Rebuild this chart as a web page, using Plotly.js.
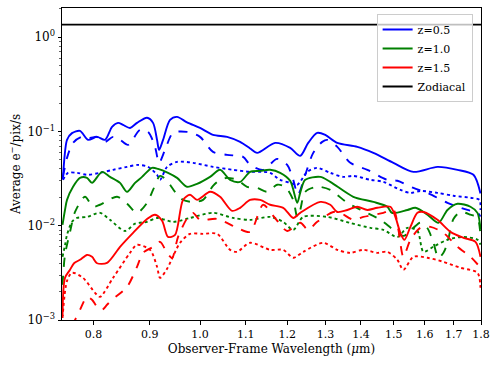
<!DOCTYPE html>
<html>
<head>
<meta charset="utf-8">
<script src="https://cdn.plot.ly/plotly-3.0.1.min.js"></script>
<style>
  html, body { margin: 0; padding: 0; background: #fff; }
  #myDiv { width: 499px; height: 366px; }
</style>
</head>
<body>
<div id="myDiv"></div>
<script>
// z = 0.5
let wlBlueSolid = [0.750, 0.7506, 0.7569, 0.7648, 0.7777, 0.7909, 0.806, 0.8196, 0.8317, 0.8422, 0.8511, 0.8636, 0.8763, 0.8949, 0.9062, 0.9138, 0.9177, 0.9254, 0.939, 0.9529, 0.973, 0.9998, 1.0274, 1.058, 1.0873, 1.1103, 1.1267, 1.17, 1.2075, 1.233, 1.2538, 1.2777, 1.2994, 1.3325, 1.3895, 1.437, 1.4985, 1.5626, 1.6432, 1.7135, 1.7718, 1.798];
let blueSolid = [0.031, 0.034, 0.0815, 0.096, 0.1015, 0.0815, 0.0877, 0.0815, 0.112, 0.1234, 0.1175, 0.109, 0.1234, 0.140, 0.1234, 0.0815, 0.0638, 0.0815, 0.1327, 0.1429, 0.125, 0.109, 0.092, 0.0877, 0.0776, 0.066, 0.0593, 0.0757, 0.067, 0.0551, 0.0757, 0.0966, 0.092, 0.0757, 0.0687, 0.0593, 0.0465, 0.0373, 0.0421, 0.0392, 0.0347, 0.022];

let wlBlueDash = [0.7506, 0.7569, 0.7665, 0.781, 0.7942, 0.806, 0.8196, 0.8335, 0.8457, 0.8601, 0.8819, 0.8968, 0.91, 0.9177, 0.9293, 0.9449, 0.973, 0.9998, 1.0274, 1.058, 1.0941, 1.1103, 1.141, 1.175, 1.1999, 1.2151, 1.227, 1.246, 1.2671, 1.2912, 1.3048, 1.3325, 1.3693, 1.419, 1.4797, 1.511, 1.5626, 1.6092, 1.678, 1.7497, 1.7867, 1.798];
let blueDash = [0.033, 0.0525, 0.0757, 0.0877, 0.0855, 0.0877, 0.0776, 0.0877, 0.0815, 0.0721, 0.104, 0.099, 0.0687, 0.0465, 0.0638, 0.0966, 0.099, 0.0877, 0.0608, 0.0565, 0.0538, 0.0442, 0.0392, 0.0512, 0.0442, 0.0307, 0.0213, 0.0347, 0.0593, 0.0776, 0.0815, 0.0687, 0.0465, 0.0392, 0.0307, 0.030, 0.0252, 0.0223, 0.0175, 0.0147, 0.0137, 0.0125];

let wlBlueDot = [0.7506, 0.7585, 0.7729, 0.7893, 0.811, 0.8335, 0.8583, 0.8782, 0.8968, 0.9138, 0.9196, 0.9332, 0.9529, 0.9853, 1.0274, 1.0714, 1.1103, 1.141, 1.1578, 1.1824, 1.2075, 1.2253, 1.2512, 1.2777, 1.3131, 1.3494, 1.3779, 1.428, 1.4674, 1.5206, 1.5528, 1.5857, 1.6432, 1.6992, 1.7607, 1.7942, 1.798];
let blueDot = [0.0307, 0.0364, 0.0364, 0.0347, 0.0364, 0.0392, 0.0421, 0.0442, 0.0421, 0.0347, 0.0307, 0.0421, 0.0476, 0.0465, 0.0421, 0.0392, 0.0373, 0.0373, 0.0364, 0.0307, 0.0285, 0.0272, 0.0373, 0.0411, 0.0364, 0.033, 0.0338, 0.0307, 0.0292, 0.024, 0.0223, 0.0234, 0.0223, 0.0208, 0.0198, 0.0188, 0.0147];

// z = 1.0
let wlGreenSolid = [0.7498, 0.7537, 0.7569, 0.7665, 0.7777, 0.7893, 0.7976, 0.8145, 0.8282, 0.8457, 0.8583, 0.8727, 0.8856, 0.9043, 0.9157, 0.9351, 0.9529, 0.973, 0.9936, 1.021, 1.0426, 1.0647, 1.0873, 1.1103, 1.1338, 1.1578, 1.1824, 1.2075, 1.2253, 1.233, 1.246, 1.2858, 1.3131, 1.3779, 1.437, 1.4797, 1.4939, 1.5431, 1.5692, 1.6092, 1.6467, 1.678, 1.7135, 1.7607, 1.7867, 1.798];
let greenSolid = [0.0102, 0.0147, 0.0188, 0.0259, 0.0322, 0.0322, 0.0285, 0.0373, 0.033, 0.0285, 0.0229, 0.0285, 0.033, 0.0411, 0.0401, 0.0364, 0.0322, 0.0259, 0.0278, 0.033, 0.0392, 0.0307, 0.0292, 0.0373, 0.0382, 0.0392, 0.0364, 0.0299, 0.0175, 0.0223, 0.0307, 0.033, 0.0292, 0.0203, 0.0179, 0.0159, 0.0137, 0.0147, 0.0155, 0.0131, 0.01074, 0.0147, 0.0171, 0.0159, 0.0137, 0.0092];

let wlGreenDash = [0.7498, 0.7537, 0.7617, 0.7697, 0.7859, 0.7992, 0.811, 0.8405, 0.8583, 0.8763, 0.8949, 0.9062, 0.9196, 0.9332, 0.9489, 0.9649, 0.9853, 1.0061, 1.0274, 1.0426, 1.058, 1.0804, 1.1033, 1.1267, 1.1506, 1.175, 1.195, 1.2151, 1.2253, 1.233, 1.246, 1.2777, 1.3131, 1.3607, 1.4071, 1.4582, 1.4985, 1.5302, 1.5626, 1.5857, 1.6092, 1.6295, 1.6467, 1.664, 1.678, 1.6992, 1.7243, 1.7607, 1.7867, 1.798];
let greenDash = [0.00236, 0.0049, 0.0086, 0.0140, 0.0203, 0.0159, 0.0167, 0.0203, 0.0171, 0.0137, 0.0175, 0.024, 0.0338, 0.030, 0.0229, 0.0188, 0.0179, 0.0188, 0.0265, 0.0307, 0.0322, 0.0307, 0.0259, 0.0252, 0.0229, 0.0272, 0.0259, 0.0188, 0.0124, 0.0147, 0.0229, 0.0259, 0.024, 0.0175, 0.0143, 0.01155, 0.00905, 0.0078, 0.0095, 0.0108, 0.0094, 0.00659, 0.00457, 0.00516, 0.0066, 0.0118, 0.014, 0.0131, 0.0121, 0.0078];

let wlGreenDot = [0.7498, 0.7537, 0.7569, 0.7648, 0.7729, 0.7893, 0.811, 0.8282, 0.8547, 0.8727, 0.8949, 0.9138, 0.9449, 0.9791, 1.0274, 1.0714, 1.1103, 1.1578, 1.1899, 1.2151, 1.2408, 1.3048, 1.3693, 1.428, 1.4674, 1.511, 1.5431, 1.5757, 1.5957, 1.6295, 1.678, 1.7351, 1.7867, 1.798];
let greenDot = [0.00468, 0.0062, 0.008, 0.011, 0.0121, 0.0124, 0.0137, 0.01155, 0.0088, 0.0105, 0.011, 0.0121, 0.011, 0.0121, 0.0137, 0.0121, 0.01155, 0.0124, 0.011, 0.00905, 0.0124, 0.0124, 0.0107, 0.0095, 0.00905, 0.0076, 0.0095, 0.0088, 0.0053, 0.0060, 0.0071, 0.0076, 0.0071, 0.0063];

// z = 1.5
let wlRedSolid = [0.7498, 0.7537, 0.7617, 0.7681, 0.7777, 0.7892, 0.7976, 0.806, 0.823, 0.8457, 0.8691, 0.8949, 0.91, 0.9235, 0.9351, 0.9489, 0.9649, 0.9791, 0.9936, 1.021, 1.0426, 1.0692, 1.0873, 1.1103, 1.1338, 1.1578, 1.1899, 1.2151, 1.233, 1.2858, 1.3131, 1.3325, 1.3607, 1.3895, 1.419, 1.449, 1.4891, 1.5047, 1.5206, 1.5334, 1.5528, 1.5757, 1.5957, 1.6432, 1.6886, 1.7351, 1.7793, 1.798];
let redSolid = [0.0011, 0.0028, 0.00341, 0.0040, 0.00435, 0.0049, 0.00468, 0.0040, 0.00404, 0.00597, 0.0084, 0.0118, 0.0131, 0.0113, 0.00762, 0.008, 0.0188, 0.0213, 0.0188, 0.0229, 0.0203, 0.0144, 0.0155, 0.0188, 0.0188, 0.0167, 0.0155, 0.0121, 0.0137, 0.0179, 0.0167, 0.014, 0.0147, 0.0159, 0.0147, 0.0155, 0.0159, 0.0124, 0.0084, 0.00709, 0.00973, 0.0137, 0.014, 0.01155, 0.00861, 0.00744, 0.00675, 0.00468];

let wlRedDash = [0.7648, 0.7697, 0.7777, 0.7893, 0.7976, 0.806, 0.8145, 0.823, 0.8317, 0.8583, 0.8763, 0.8874, 0.9062, 0.9196, 0.9332, 0.943, 0.9549, 0.975, 0.9853, 0.9998, 1.0361, 1.0804, 1.1103, 1.141, 1.1675, 1.1999, 1.233, 1.2538, 1.2777, 1.3214, 1.3409, 1.3779, 1.4071, 1.4674, 1.4985, 1.5143, 1.5302, 1.5528, 1.5857, 1.6193, 1.664, 1.7135, 1.7607, 1.798];
let redDash = [0.00087, 0.001, 0.00128, 0.00176, 0.00164, 0.00138, 0.00128, 0.00145, 0.00164, 0.00225, 0.00367, 0.00516, 0.00597, 0.00675, 0.00516, 0.00457, 0.00762, 0.0124, 0.0137, 0.01155, 0.0118, 0.0095, 0.0086, 0.0167, 0.0124, 0.0088, 0.01074, 0.00905, 0.011, 0.014, 0.0137, 0.01155, 0.0124, 0.0137, 0.0147, 0.00905, 0.00468, 0.00709, 0.0095, 0.00973, 0.0084, 0.00597, 0.00468, 0.0036];

let wlRedDot = [0.7498, 0.7569, 0.7648, 0.7827, 0.8026, 0.811, 0.8335, 0.8636, 0.8763, 0.9005, 0.9138, 0.9196, 0.9332, 0.9589, 0.9791, 1.0061, 1.0361, 1.0647, 1.0804, 1.1103, 1.1578, 1.1899, 1.2151, 1.2408, 1.2939, 1.3325, 1.3693, 1.4071, 1.449, 1.4797, 1.511, 1.5302, 1.5626, 1.6092, 1.664, 1.7243, 1.7867, 1.798];
let redDot = [0.00105, 0.0026, 0.00317, 0.0028, 0.00194, 0.00176, 0.0028, 0.00516, 0.00627, 0.00555, 0.00367, 0.0028, 0.0035, 0.00659, 0.0082, 0.0082, 0.0082, 0.00555, 0.00529, 0.00659, 0.00555, 0.00555, 0.00457, 0.00529, 0.00659, 0.00555, 0.00516, 0.00555, 0.00516, 0.00529, 0.00435, 0.00341, 0.00468, 0.00457, 0.00414, 0.00358, 0.00317, 0.0022];

// zodiacal background
let wlZodi = [0.70, 1.90];
let zodi = [1.36, 1.36];

let xTicks = [0.8, 0.9, 1.0, 1.1, 1.2, 1.3, 1.4, 1.5, 1.6, 1.7, 1.8];
let xTickText = ['0.8', '0.9', '1.0', '1.1', '1.2', '1.3', '1.4', '1.5', '1.6', '1.7', '1.8'];
let yTicks = [0.001, 0.01, 0.1, 1];
let yTickText = ['10<sup>−3</sup>', '10<sup>−2</sup>', '10<sup>−1</sup>', '10<sup>0</sup>'];
let yMinor = [0.002, 0.003, 0.004, 0.005, 0.006, 0.007, 0.008, 0.009,
              0.02, 0.03, 0.04, 0.05, 0.06, 0.07, 0.08, 0.09,
              0.2, 0.3, 0.4, 0.5, 0.6, 0.7, 0.8, 0.9, 2];

const serif = 'DejaVu Serif';

function linea(x, y, color, dash, name, showlegend) {
    return {
        x: x,
        y: y,
        type: 'scatter',
        mode: 'lines',
        name: name,
        showlegend: showlegend,
        line: {color: color, width: 1.9, dash: dash, shape: 'spline', smoothing: 0.8}
    };
}

var data = [
    linea(wlBlueSolid, blueSolid, '#0000ff', 'solid', 'z=0.5', true),
    linea(wlBlueDash, blueDash, '#0000ff', 'dash', '', false),
    linea(wlBlueDot, blueDot, '#0000ff', 'dot', '', false),
    linea(wlGreenSolid, greenSolid, '#008000', 'solid', 'z=1.0', true),
    linea(wlGreenDash, greenDash, '#008000', 'dash', '', false),
    linea(wlGreenDot, greenDot, '#008000', 'dot', '', false),
    linea(wlRedSolid, redSolid, '#ff0000', 'solid', 'z=1.5', true),
    linea(wlRedDash, redDash, '#ff0000', 'dash', '', false),
    linea(wlRedDot, redDot, '#ff0000', 'dot', '', false),
    {
        x: wlZodi,
        y: zodi,
        type: 'scatter',
        mode: 'lines',
        name: 'Zodiacal',
        line: {color: '#000000', width: 1.9}
    }
];

var layout = {
    width: 499,
    height: 366,
    margin: {l: 62, r: 18, t: 8, b: 46},
    font: {family: serif, size: 11, color: '#000'},
    plot_bgcolor: '#fff',
    paper_bgcolor: '#fff',
    showlegend: true,
    legend: {
        x: 0.98, y: 0.981, xanchor: 'right', yanchor: 'top',
        bgcolor: 'rgba(255,255,255,0.75)',
        bordercolor: '#cccccc', borderwidth: 1,
        font: {family: serif, size: 11},
        itemwidth: 30,
        tracegroupgap: 0
    },
    xaxis: {
        type: 'log',
        range: [Math.log10(0.749), Math.log10(1.8)],
        tickmode: 'array',
        tickvals: xTicks,
        ticktext: xTickText,
        ticks: 'outside', ticklen: 3.5, tickwidth: 1, tickcolor: '#000',
        tickfont: {family: serif, size: 11},
        showline: true, mirror: true, linecolor: '#000', linewidth: 1,
        showgrid: false, zeroline: false,
        title: {text: 'Observer-Frame Wavelength (<i>μ</i>m)', font: {family: serif, size: 12}, standoff: 4}
    },
    yaxis: {
        type: 'log',
        range: [-3, 0.31],
        tickmode: 'array',
        tickvals: yTicks,
        ticktext: yTickText,
        ticks: 'outside', ticklen: 3.5, tickwidth: 1, tickcolor: '#000',
        tickfont: {family: serif, size: 12},
        minor: {tickmode: 'array', tickvals: yMinor, ticks: 'outside', ticklen: 2, tickwidth: 0.6, tickcolor: '#000', showgrid: false},
        showline: true, mirror: true, linecolor: '#000', linewidth: 1,
        showgrid: false, zeroline: false,
        title: {text: 'Average e<sup>−</sup>/pix/s', font: {family: serif, size: 12}, standoff: 4}
    }
};

Plotly.newPlot('myDiv', data, layout, {displayModeBar: false, staticPlot: true});
</script>
</body>
</html>
